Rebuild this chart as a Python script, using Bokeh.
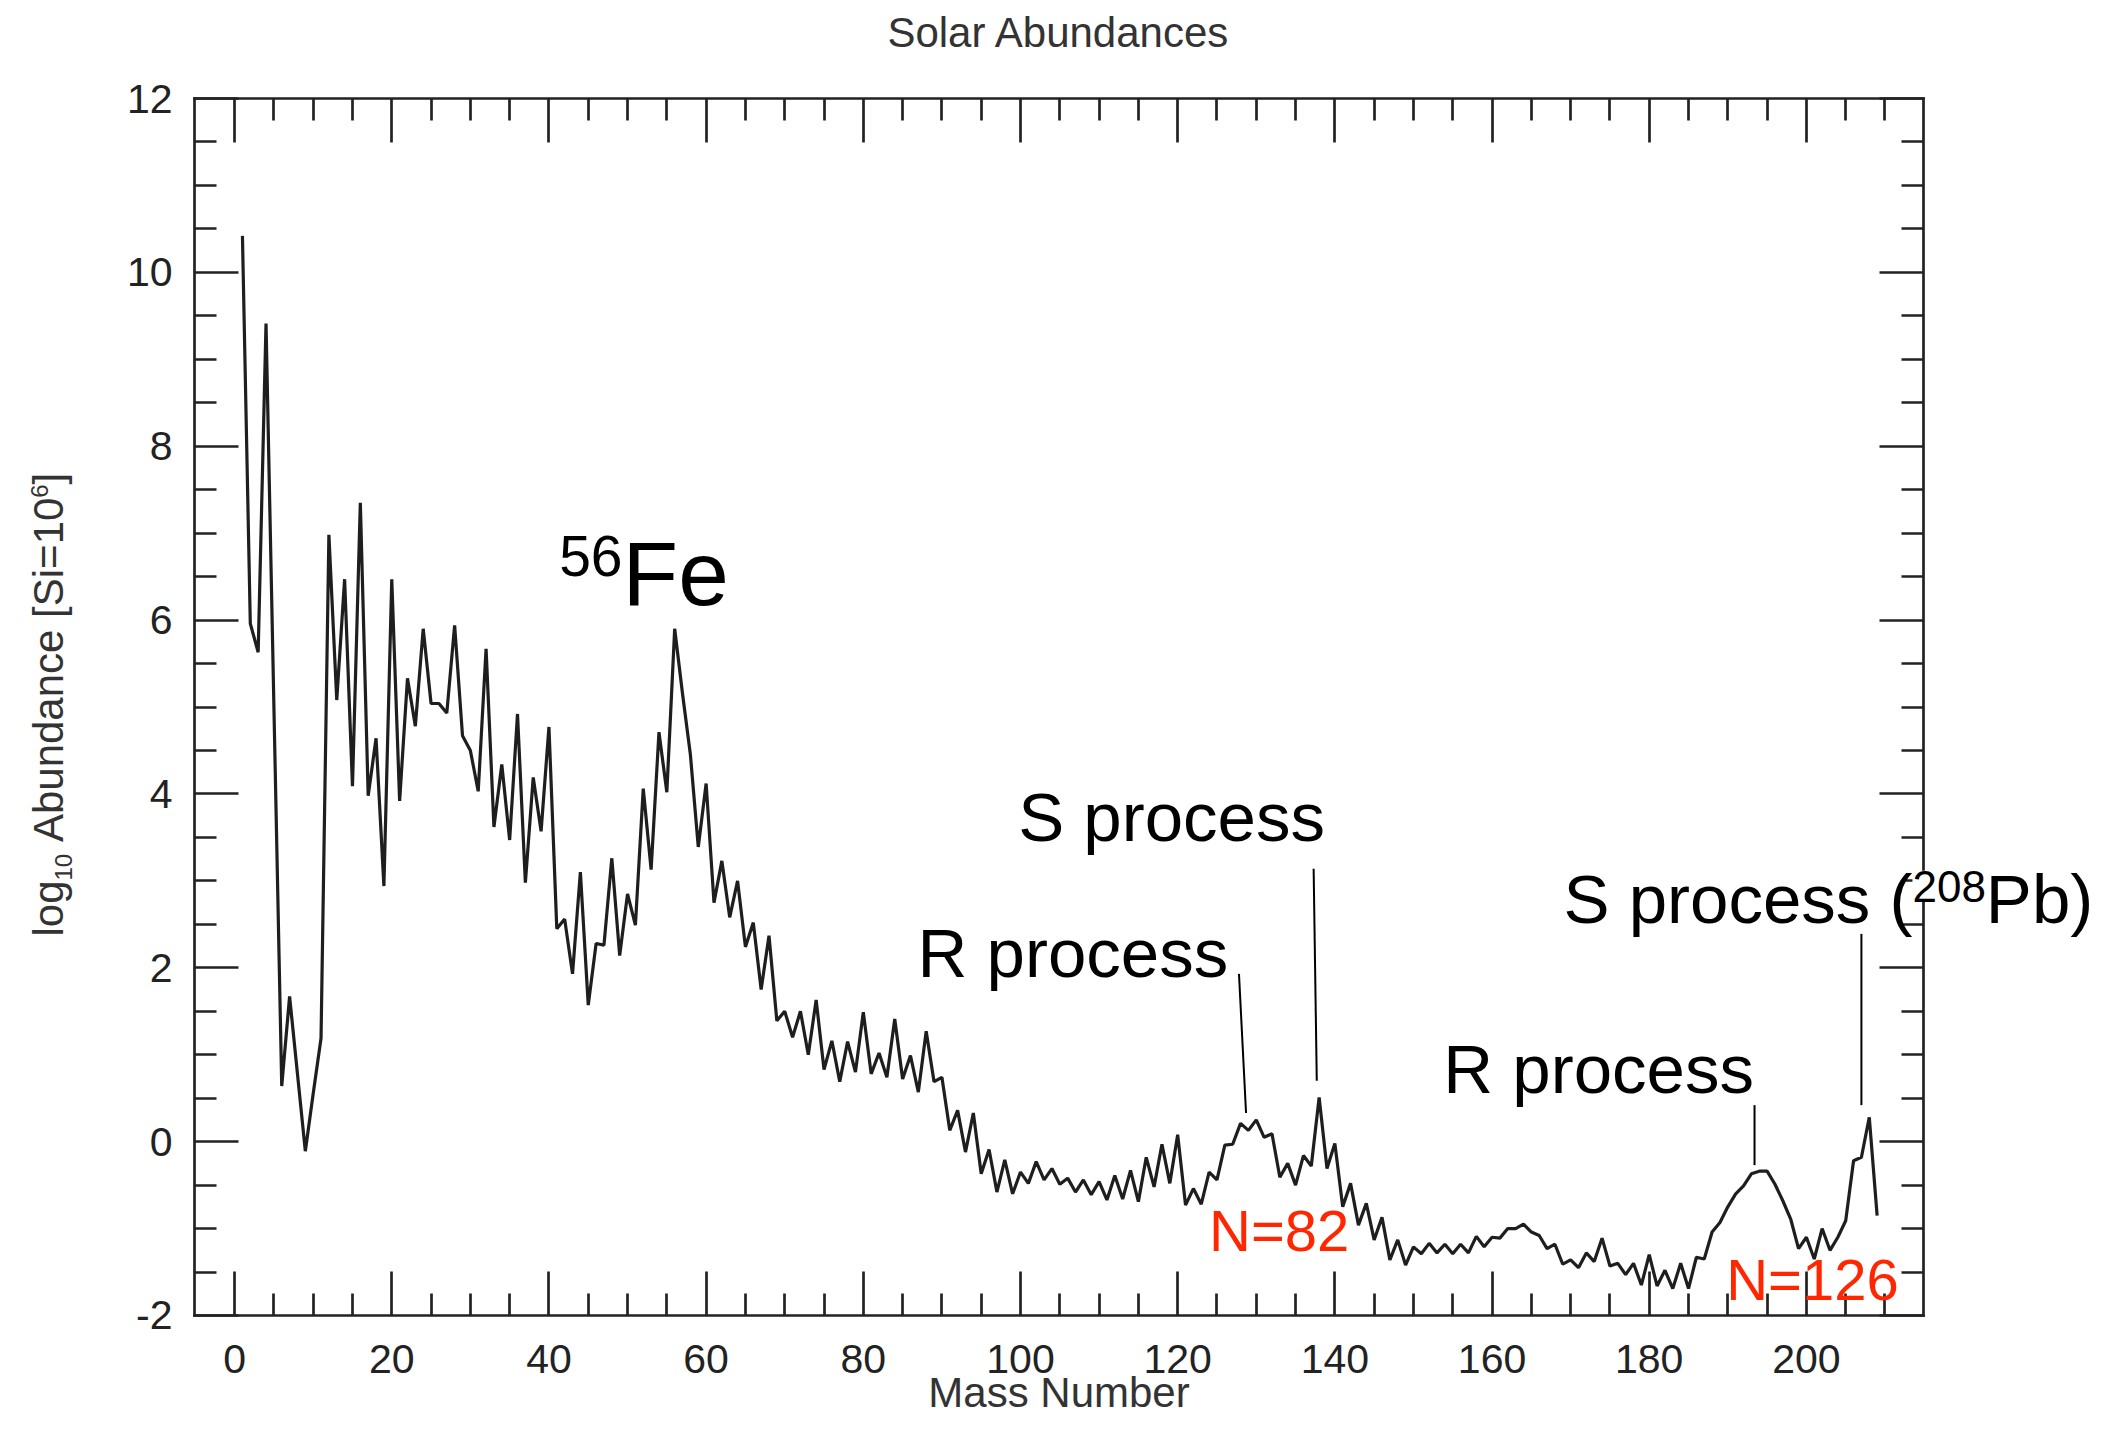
import math
from bokeh.plotting import figure
from bokeh.models import Range1d, LinearAxis, FixedTicker, Label, CustomJSTickFormatter
from bokeh.embed import file_html
from bokeh.resources import INLINE

# ---------------- data ----------------
mass_number = [
    1, 2, 3, 4, 6, 7, 9, 10, 11, 12, 13, 14, 15, 16, 17, 18, 19, 20,
    21, 22, 23, 24, 25, 26, 27, 28, 29, 30, 31, 32, 33, 34, 35, 36, 37, 38, 39, 40,
    41, 42, 43, 44, 45, 46, 47, 48, 49, 50, 51, 52, 53, 54, 55, 56, 57, 58, 59, 60,
    61, 62, 63, 64, 65, 66, 67, 68, 69, 70, 71, 72, 73, 74, 75, 76, 77, 78, 79, 80,
    81, 82, 83, 84, 85, 86, 87, 88, 89, 90, 91, 92, 93, 94, 95, 96, 97, 98, 99, 100,
    101, 102, 103, 104, 105, 106, 107, 108, 109, 110, 111, 112, 113, 114, 115, 116, 117, 118, 119, 120,
    121, 122, 123, 124, 125, 126, 127, 128, 129, 130, 131, 132, 133, 134, 135, 136, 137, 138, 139, 140,
    141, 142, 143, 144, 145, 146, 147, 148, 149, 150, 151, 152, 153, 154, 155, 156, 157, 158, 159, 160,
    161, 162, 163, 164, 165, 166, 167, 168, 169, 170, 171, 172, 173, 174, 175, 176, 177, 178, 179, 180,
    181, 182, 183, 184, 185, 186, 187, 188, 189, 190, 191, 192, 193, 194, 195, 196, 197, 198, 199, 200,
    201, 202, 203, 204, 205, 206, 207, 208, 209,
]
log_abundance = [
    10.42, 5.96, 5.63, 9.41, 0.64, 1.67, -0.11, 0.55, 1.19, 6.98, 5.08, 6.47, 4.09, 7.35, 3.98, 4.64, 2.94, 6.47,
    3.92, 5.33, 4.78, 5.90, 5.04, 5.04, 4.93, 5.94, 4.67, 4.50, 4.03, 5.67, 3.62, 4.34, 3.47, 4.92, 2.98, 4.19, 3.57, 4.77,
    2.45, 2.56, 1.93, 3.10, 1.57, 2.28, 2.26, 3.26, 2.14, 2.85, 2.49, 4.06, 3.13, 4.71, 4.02, 5.90, 5.15, 4.45, 3.39, 4.12,
    2.75, 3.23, 2.58, 3.00, 2.24, 2.52, 1.75, 2.37, 1.39, 1.50, 1.20, 1.50, 1.00, 1.63, 0.83, 1.16, 0.69, 1.15, 0.80, 1.49,
    0.78, 1.02, 0.74, 1.41, 0.72, 0.99, 0.57, 1.27, 0.69, 0.74, 0.13, 0.36, -0.12, 0.33, -0.37, -0.09, -0.58, -0.21, -0.60, -0.35,
    -0.48, -0.23, -0.44, -0.31, -0.49, -0.42, -0.58, -0.44, -0.61, -0.46, -0.67, -0.39, -0.66, -0.33, -0.69, -0.18, -0.52, -0.03, -0.48, 0.08,
    -0.73, -0.54, -0.72, -0.35, -0.44, -0.04, -0.03, 0.21, 0.13, 0.25, 0.05, 0.09, -0.41, -0.25, -0.50, -0.16, -0.28, 0.51, -0.31, -0.02,
    -0.75, -0.48, -0.96, -0.71, -1.13, -0.87, -1.36, -1.13, -1.42, -1.21, -1.29, -1.17, -1.28, -1.18, -1.29, -1.18, -1.28, -1.09, -1.21, -1.10,
    -1.11, -1.00, -1.00, -0.95, -1.04, -1.08, -1.23, -1.18, -1.41, -1.36, -1.45, -1.28, -1.38, -1.11, -1.43, -1.40, -1.53, -1.40, -1.65, -1.30,
    -1.66, -1.48, -1.69, -1.40, -1.69, -1.33, -1.35, -1.04, -0.93, -0.75, -0.60, -0.51, -0.37, -0.34, -0.34, -0.49, -0.68, -0.89, -1.23, -1.10,
    -1.35, -1.00, -1.25, -1.10, -0.91, -0.22, -0.18, 0.28, -0.85,
]

x_major_ticks = [0, 20, 40, 60, 80, 100, 120, 140, 160, 180, 200]
x_minor_ticks = [5, 10, 15, 25, 30, 35, 45, 50, 55, 65, 70, 75, 85, 90, 95, 105, 110, 115,
                 125, 130, 135, 145, 150, 155, 165, 170, 175, 185, 190, 195, 205, 210]
y_major_ticks = [-2, 0, 2, 4, 6, 8, 10, 12]
y_minor_ticks = [-1.5, -1, -0.5, 0.5, 1, 1.5, 2.5, 3, 3.5, 4.5, 5, 5.5, 6.5, 7, 7.5,
                 8.5, 9, 9.5, 10.5, 11, 11.5]
y_tick_labels = {-2: "-2", 0: "0", 2: "2", 4: "4", 6: "6", 8: "8", 10: "10", 12: "12"}

x_box = (-5.1, 214.9)      # plotted x extent (the box)
y_box = (-2, 12)           # plotted y extent (the box)

title_text = "Solar Abundances"
x_title = "Mass Number"

FONT = "Liberation Sans"
INK = "#222222"
LABEL_GREY = "#333333"

# The frame covers the whole canvas; the box is drawn by four axes at fixed locations.
p = figure(width=2110, height=1420, title=None,
           x_range=Range1d(-29.785, 238.694), y_range=Range1d(-3.2079, 13.1274),
           output_backend="svg", toolbar_location=None,
           x_axis_type=None, y_axis_type=None, min_border=0)
p.grid.visible = False
p.outline_line_color = None
p.background_fill_color = "white"
p.border_fill_color = "white"


def make_axis(ticker, loc, bounds, show_labels, standoff=22):
    ax = LinearAxis(ticker=ticker, fixed_location=loc, bounds=bounds)
    ax.major_tick_in = 44
    ax.major_tick_out = 0
    ax.minor_tick_in = 22
    ax.minor_tick_out = 0
    ax.axis_line_color = INK
    ax.axis_line_width = 2.7
    ax.axis_line_cap = "square"
    ax.major_tick_line_color = INK
    ax.major_tick_line_width = 2.7
    ax.minor_tick_line_color = INK
    ax.minor_tick_line_width = 2.7
    ax.major_label_text_font = FONT
    ax.major_label_text_font_size = "41px"
    ax.major_label_text_color = INK
    ax.major_label_standoff = standoff
    if not show_labels:
        ax.formatter = CustomJSTickFormatter(code="return ''")
    return ax


xt = FixedTicker(ticks=x_major_ticks, minor_ticks=x_minor_ticks)
yt = FixedTicker(ticks=y_major_ticks, minor_ticks=y_minor_ticks)

p.add_layout(make_axis(xt, y_box[0], x_box, True, 30), "below")
yax = make_axis(yt, x_box[0], y_box, True, 22)
yax.major_label_overrides = y_tick_labels
p.add_layout(yax, "left")
p.add_layout(make_axis(xt, y_box[1], x_box, False), "above")
p.add_layout(make_axis(yt, x_box[1], y_box, False), "right")

# the abundance curve
p.line(mass_number, log_abundance, line_color="#1e1e1e", line_width=3.2)

BASE_FIX = 0.38  # baseline correction (fraction of font size)


def lab(x, y, text, size, color="black", align="left", rotated=False, xo=0.0, yo=0.0, bg=None):
    if rotated:
        xo = xo - BASE_FIX * size
        angle = math.pi / 2
    else:
        yo = yo + BASE_FIX * size
        angle = 0.0
    p.add_layout(Label(x=x, y=y, text=text, text_font=FONT, text_font_size=f"{size}px",
                       text_color=color, text_align=align, text_baseline="alphabetic",
                       angle=angle, x_offset=xo, y_offset=yo, background_fill_color=bg))


# title and x-axis title
lab(104.9, 12.58, title_text, 42, color=LABEL_GREY, align="center")
lab(104.9, -3.07, x_title, 42, color=LABEL_GREY, align="center")

# y-axis title with subscript / superscript (rotated)
yl_x, yl_y = -21.64, 2.36
lab(yl_x, yl_y, "log", 42, color=LABEL_GREY, rotated=True)
lab(yl_x, yl_y, "10", 24, color=LABEL_GREY, rotated=True, xo=8, yo=56.0)
lab(yl_x, yl_y, "Abundance [Si=10", 42, color=LABEL_GREY, rotated=True, yo=56.0 + 26.7 + 11.7)
lab(yl_x, yl_y, "6", 24, color=LABEL_GREY, rotated=True, xo=-16, yo=56.0 + 26.7 + 11.7 + 344.4)
lab(yl_x, yl_y, "]", 42, color=LABEL_GREY, rotated=True, yo=56.0 + 26.7 + 11.7 + 344.4 + 13.3)

# 56Fe
lab(41.3, 6.14, "56", 57, yo=30)
lab(41.3, 6.14, "Fe", 91, xo=63.4)

# process annotations
lab(86.9, 1.86, "R process", 69)
lab(99.7, 3.43, "S process", 69)
lab(153.8, 0.53, "R process", 69)
lab(169.1, 2.48, "S process (", 69)
lab(169.1, 2.48, "208", 44, xo=348.9, yo=23, bg="white")
lab(169.1, 2.48, "Pb)", 69, xo=348.9 + 73.4)

# magic-number labels
lab(124.0, -1.27, "N=82", 58, color="#ff2600")
lab(189.8, -1.84, "N=126", 58, color="#ff2600")

# pointer lines
p.segment(x0=[127.8, 137.3, 193.4, 207.0], y0=[1.93, 3.14, 0.42, 2.39],
          x1=[128.7, 137.7, 193.4, 207.0], y1=[0.33, 0.70, -0.27, 0.42],
          line_color="black", line_width=2)

open("out.html", "w").write(file_html(p, INLINE))
